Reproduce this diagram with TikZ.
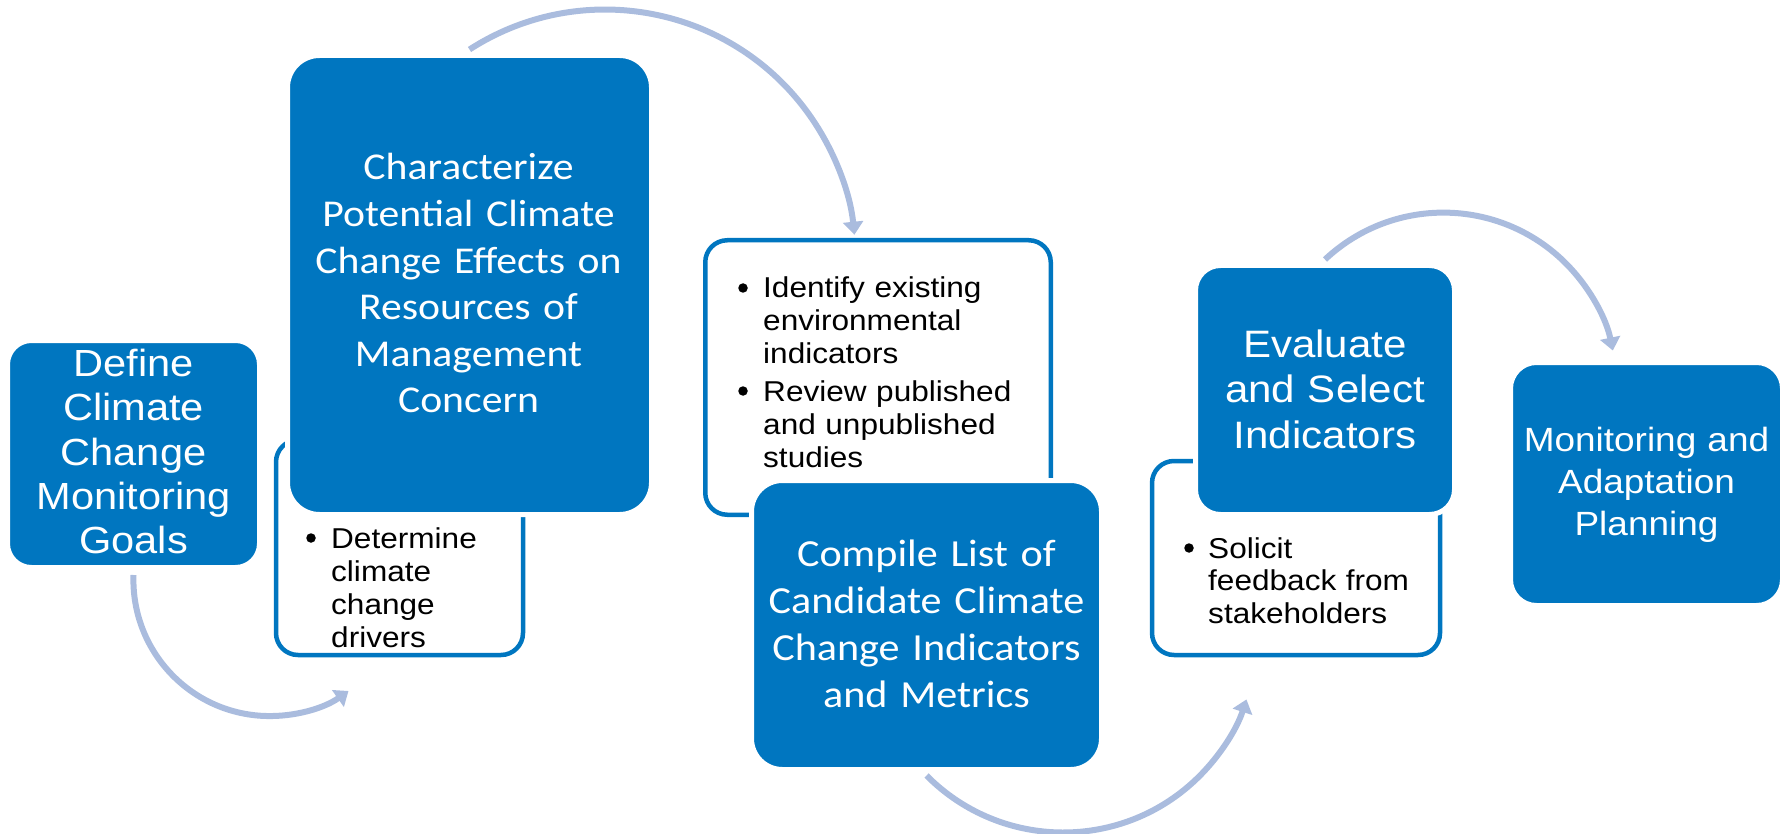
\documentclass[tikz,border=0pt]{standalone}
\usepackage{fontspec}
\usetikzlibrary{arrows.meta}
\newfontfamily\arialx[FakeStretch=1.1]{Liberation Sans}
\newfontfamily\calx[FakeStretch=1.1]{Carlito}
\definecolor{boxblue}{RGB}{0,118,192}
\definecolor{arrowblue}{RGB}{170,188,222}
\pgfdeclarelayer{bg}
\pgfsetlayers{bg,main}
\begin{document}
\begin{tikzpicture}[x=1pt,y=-1pt,
  bluebox/.style={rectangle, fill=boxblue, draw=white, line width=5pt, inner sep=0pt},
  whitebox/.style={rectangle, fill=white, draw=boxblue, line width=4.5pt, rounded corners=22pt, inner sep=0pt},
  bluetxt/.style={text=white, align=center, inner sep=0pt, anchor=base, text width=360pt},
  bultxt/.style={text=black, align=left, inner sep=0pt, anchor=base west, text width=300pt, font=\arialx\fontsize{28.7}{33}\selectfont},
  bulmark/.style={text=black, inner sep=0pt, anchor=center, circle, fill=black, minimum size=9.5pt},
  flow/.style={draw=arrowblue, line width=6pt, -{Triangle[length=13pt,width=20pt]}},
]
\useasboundingbox (0,0) rectangle (1785,834);

% white bullet boxes
\begin{pgfonlayer}{bg}
\node[whitebox, minimum width=247pt, minimum height=215pt] (wdet) at (399.5,547.5) {};
\node[whitebox, minimum width=345.5pt, minimum height=274.5pt] (wide) at (878,377.5) {};
\node[whitebox, minimum width=288pt, minimum height=194pt] (wsol) at (1296,558) {};
\end{pgfonlayer}

% blue step boxes
\node[bluebox, rounded corners=24pt, minimum width=252pt, minimum height=227pt] (define) at (133.5,454) {};
\node[bluebox, rounded corners=32pt, minimum width=364pt, minimum height=459pt] (charac) at (469.5,285) {};
\node[bluebox, rounded corners=31pt, minimum width=350pt, minimum height=289pt] (compile) at (926.5,625) {};
\node[bluebox, rounded corners=25pt, minimum width=259pt, minimum height=249pt] (evaluate) at (1325,390) {};
\node[bluebox, rounded corners=26pt, minimum width=272pt, minimum height=243pt] (monitor) at (1646.5,484) {};

% texts of blue boxes
\node[bluetxt, font=\arialx\fontsize{37.8}{44.15}\selectfont] (defineT) at (133.5,376.7)
  {Define\\Climate\\Change\\Monitoring\\Goals};
\node[bluetxt, font=\calx\fontsize{37.9}{46.6}\selectfont] (characT) at (468.5,180)
  {Characterize\\Potential Climate\\Change Effects on\\Resources of\\Management\\Concern};
\node[bluetxt, font=\calx\fontsize{38.3}{47}\selectfont] (compileT) at (926.5,566)
  {Compile List of\\Candidate Climate\\Change Indicators\\and Metrics};
\node[bluetxt, font=\arialx\fontsize{38.2}{45.5}\selectfont] (evaluateT) at (1325,357)
  {Evaluate\\and Select\\Indicators};
\node[bluetxt, font=\arialx\fontsize{33.6}{41.7}\selectfont] (monitorT) at (1646.5,451.7)
  {Monitoring and\\Adaptation\\Planning};

% bullet texts
\node[bulmark] (b1) at (311,538) {};
\node[bultxt] (t1) at (331,548) {Determine\\climate\\change\\drivers};
\node[bulmark] (b2) at (743,288) {};
\node[bultxt] (t2) at (763,298) {Identify existing\\environmental\\indicators};
\node[bulmark] (b3) at (743,391) {};
\node[bultxt] (t3) at (763,401) {Review published\\and unpublished\\studies};
\node[bulmark] (b4) at (1189,548) {};
\node[bultxt, font=\arialx\fontsize{28.7}{32.5}\selectfont] (t4) at (1208,558) {Solicit\\feedback from\\stakeholders};

% curved arrows (behind everything)
\begin{pgfonlayer}{bg}
\draw[flow] ([yshift=-5pt]define.south) arc[start angle=182, end angle=54.7, radius=136.3];
\draw[flow] ([yshift=3.5pt]charac.north) arc[start angle=-122.8, end angle=-5.8, radius=250.5];
\draw[flow] ([yshift=-3.5pt]compile.south) arc[start angle=135.25, end angle=18, radius=192.6];
\draw[flow] ([yshift=3.5pt]evaluate.north) arc[start angle=-133.2, end angle=-11.7, radius=173];
\end{pgfonlayer}
\end{tikzpicture}
\end{document}
